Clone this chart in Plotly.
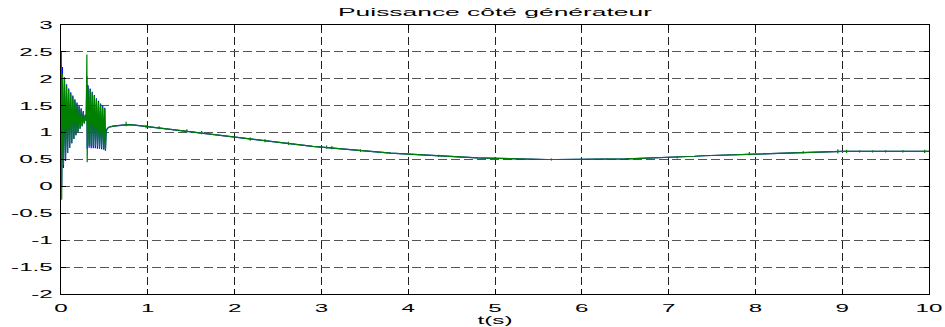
import plotly.graph_objects as go

# ---------------- data ----------------
# initial transient (t in s)
burst_t = [0.000, 0.004, 0.008, 0.016, 0.028, 0.040, 0.052, 0.064, 0.076, 0.088,
           0.100, 0.112, 0.124, 0.136, 0.148, 0.160, 0.172, 0.184, 0.196, 0.208,
           0.220, 0.232, 0.244, 0.256, 0.268, 0.280, 0.290, 0.298, 0.302, 0.312,
           0.324, 0.336, 0.348, 0.360, 0.372, 0.384, 0.396, 0.408, 0.420, 0.432,
           0.444, 0.456, 0.468, 0.480, 0.492, 0.504, 0.512, 0.520, 0.535, 0.550]
burst_green = [0.05, 2.50, -0.25, 2.10, 0.40, 2.00, 0.50, 1.88, 0.62, 1.80,
               0.72, 1.73, 0.80, 1.67, 0.88, 1.60, 0.95, 1.54, 1.01, 1.48,
               1.07, 1.43, 1.12, 1.38, 1.17, 1.32, 1.22, 2.45, 0.45, 1.85,
               0.76, 1.80, 0.75, 1.74, 0.75, 1.68, 0.74, 1.62, 0.74, 1.57,
               0.73, 1.52, 0.72, 1.48, 0.70, 1.45, 0.66, 1.05, 1.08, 1.10]
burst_blue = [0.10, 2.25, 0.00, 2.22, 0.34, 2.03, 0.47, 1.90, 0.62, 1.82,
              0.72, 1.75, 0.80, 1.69, 0.88, 1.62, 0.95, 1.56, 1.01, 1.50,
              1.07, 1.45, 1.12, 1.40, 1.17, 1.33, 1.22, 2.05, 0.70, 1.88,
              0.72, 1.82, 0.71, 1.76, 0.71, 1.70, 0.71, 1.64, 0.70, 1.59,
              0.70, 1.54, 0.69, 1.50, 0.68, 1.46, 0.68, 1.02, 1.08, 1.10]

# slow part, sampled every 0.1 s from 0.6 s to 10 s
slow_t = [round(0.6 + 0.1 * i, 1) for i in range(95)]
slow_p = [1.12, 1.14, 1.15, 1.13, 1.11,
          1.10, 1.08, 1.06, 1.04, 1.02,
          1.00, 0.98, 0.96, 0.94, 0.92,
          0.90, 0.88, 0.86, 0.84, 0.82,
          0.80, 0.78, 0.76, 0.745, 0.73,
          0.715, 0.70, 0.69, 0.675, 0.66,
          0.65, 0.635, 0.62, 0.61, 0.60,
          0.59, 0.58, 0.57, 0.56, 0.55,
          0.545, 0.535, 0.53, 0.525, 0.52,
          0.515, 0.51, 0.51, 0.505, 0.505,
          0.50, 0.50, 0.50, 0.50, 0.50,
          0.50, 0.505, 0.505, 0.51, 0.51,
          0.515, 0.52, 0.525, 0.53, 0.535,
          0.54, 0.55, 0.56, 0.57, 0.575,
          0.585, 0.595, 0.60, 0.605, 0.61,
          0.615, 0.62, 0.625, 0.63, 0.635,
          0.64, 0.64, 0.645, 0.645, 0.65,
          0.65, 0.65, 0.65, 0.65, 0.65,
          0.65, 0.65, 0.65, 0.65, 0.65]

# small ripples visible on the slow part
spike_t = [0.75, 0.98, 1.13, 1.45, 1.62, 2.18, 2.35, 2.62, 3.06, 3.12, 3.45, 4.35,
           5.0, 5.65, 6.3, 7.1, 7.93, 8.55, 8.95, 9.05, 9.2, 9.35, 9.5, 9.7, 9.95]
spike_lo = [1.12, 1.08, 1.06, 1.00, 0.97, 0.85, 0.82, 0.77, 0.70, 0.69, 0.64, 0.55,
            0.50, 0.48, 0.49, 0.52, 0.58, 0.61, 0.61, 0.62, 0.63, 0.63, 0.63, 0.63, 0.62]
spike_hi = [1.20, 1.14, 1.12, 1.06, 1.03, 0.91, 0.88, 0.83, 0.76, 0.75, 0.69, 0.59,
            0.54, 0.52, 0.53, 0.56, 0.64, 0.66, 0.69, 0.68, 0.67, 0.67, 0.67, 0.67, 0.68]

x_ticks = [0, 1, 2, 3, 4, 5, 6, 7, 8, 9, 10]
y_ticks = [-2, -1.5, -1, -0.5, 0, 0.5, 1, 1.5, 2, 2.5, 3]
y_tick_text = ["-2", "-1.5", "-1", "-0.5", "0", "0.5", "1", "1.5", "2", "2.5", "3"]

title_text = "Puissance côté générateur"
x_label = "t(s)"

# ---------------- figure ----------------
BLUE = "#0000ff"
GREEN = "#008000"

fig = go.Figure()
fig.add_trace(go.Scatter(x=burst_t + slow_t, y=burst_blue + slow_p, mode="lines",
                         line=dict(color=BLUE, width=1.2), hoverinfo="skip"))
fig.add_trace(go.Scatter(x=burst_t + slow_t, y=burst_green + slow_p, mode="lines",
                         line=dict(color=GREEN, width=1.2), hoverinfo="skip"))
sx, sy = [], []
for t, lo, hi in zip(spike_t, spike_lo, spike_hi):
    sx += [t, t, None]
    sy += [lo, hi, None]
fig.add_trace(go.Scatter(x=sx, y=sy, mode="lines", line=dict(color=GREEN, width=1.2),
                         hoverinfo="skip"))

axis_font = dict(family="Liberation Sans, Arial, sans-serif", size=11, color="black")

fig.update_layout(
    width=945, height=327,
    margin=dict(l=61, r=16, t=25, b=33, autoexpand=False),
    paper_bgcolor="white", plot_bgcolor="white",
    showlegend=False,
    title=dict(text=title_text, x=(61 + 929) / 2 / 945, xanchor="center",
               y=1 - 12 / 327, yanchor="middle",
               font=dict(family="Liberation Sans, Arial, sans-serif", size=11, color="black")),
)
fig.update_xaxes(range=[0, 10], tickvals=x_ticks, tickfont=axis_font, automargin=False,
                 showline=True, linecolor="black", linewidth=1, mirror="ticks",
                 ticks="inside", ticklen=5, tickcolor="black", ticklabelstandoff=4,
                 showgrid=True, gridcolor="#222222", gridwidth=1, griddash="8px,4px",
                 zeroline=False,
                 title=dict(text=x_label, font=axis_font, standoff=1))
fig.update_yaxes(range=[-2, 3], tickvals=y_ticks, ticktext=y_tick_text, tickfont=axis_font,
                 automargin=False,
                 showline=True, linecolor="black", linewidth=1, mirror="ticks",
                 ticks="inside", ticklen=5, tickcolor="black", ticklabelstandoff=5,
                 showgrid=True, gridcolor="#555555", gridwidth=1, griddash="9px,4px",
                 zeroline=False)

post = """
document.body.style.margin = '0';
document.body.style.padding = '0';
var gd = document.getElementById('{plot_id}');
function stretchText(){
  var nodes = gd.querySelectorAll('g.xtick text, g.ytick text, text.gtitle, text.xtitle');
  nodes.forEach(function(t){
    if (t.getAttribute('data-stretched')) return;
    var s = t.classList.contains('gtitle') ? 2.4 : 2.2;
    var x = parseFloat(t.getAttribute('x')) || 0;
    var tr = t.getAttribute('transform') || '';
    t.setAttribute('transform', tr + ' translate(' + x + ',0) scale(' + s + ',1) translate(' + (-x) + ',0)');
    t.setAttribute('data-stretched', '1');
  });
}
stretchText();
"""

fig.write_html("out.html", post_script=post, config={"staticPlot": True})
